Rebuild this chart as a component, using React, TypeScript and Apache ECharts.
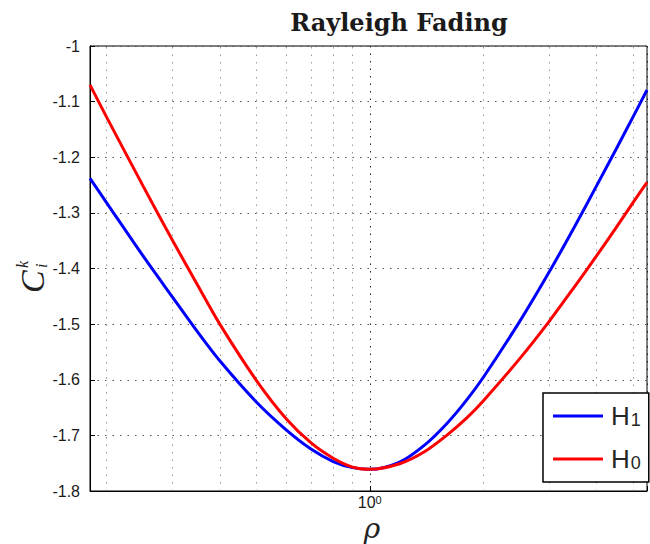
import React, { useEffect, useRef } from 'react';
import * as echarts from 'echarts';

// rho values (log x axis)
const rho = [0.181, 0.2, 0.25, 0.3, 0.35, 0.4, 0.5, 0.6, 0.7, 0.8, 0.9, 1, 1.2, 1.4, 1.6, 1.8, 2, 2.5, 3, 3.5, 4, 4.5, 5, 5.44];
// H1 (blue)
const h1 = [-1.238, -1.281, -1.377, -1.452, -1.515, -1.566, -1.640, -1.690, -1.725, -1.747, -1.758, -1.761, -1.748, -1.717, -1.679, -1.638, -1.596, -1.495, -1.405, -1.324, -1.251, -1.186, -1.127, -1.079];
// H0 (red)
const h0 = [-1.070, -1.127, -1.251, -1.350, -1.431, -1.500, -1.601, -1.670, -1.714, -1.741, -1.757, -1.761, -1.751, -1.729, -1.700, -1.670, -1.638, -1.562, -1.494, -1.432, -1.377, -1.327, -1.281, -1.245];
// minor log grid positions
const minorX = [0.2, 0.3, 0.4, 0.5, 0.6, 0.7, 0.8, 0.9, 2, 3, 4, 5];
const seriesNames = ['H1', 'H0'];
const titleText = 'Rayleigh Fading';

export default function App() {
  const ref = useRef<HTMLDivElement>(null);
  useEffect(() => {
    if (!ref.current) return;
    const chart = echarts.init(ref.current, undefined, { renderer: 'svg' });
    const sans = '"Liberation Sans", Arial, sans-serif';
    const option: any = {
      animation: false,
      backgroundColor: '#ffffff',
      grid: {
        left: 90, top: 46, right: -2, bottom: 53,
        show: true, borderColor: '#000', borderWidth: 1,
      },
      xAxis: {
        type: 'log', logBase: 10, min: 0.181, max: 5.44,
        axisLine: { show: true, lineStyle: { color: '#000', width: 1 } },
        axisTick: { show: true, inside: true, length: 5, lineStyle: { color: '#000' } },
        axisLabel: {
          margin: 3,
          formatter: (v: number) => (Math.abs(v - 1) < 1e-9 ? '{b|10}{s|0}' : ''),
          rich: {
            b: { fontSize: 16, lineHeight: 17, fontFamily: sans, color: '#1a1a1a' },
            s: { fontSize: 11, lineHeight: 6, verticalAlign: 'top', fontFamily: sans, color: '#1a1a1a' },
          },
        },
        splitLine: { show: true, lineStyle: { color: '#222', type: [1.5, 6], width: 1 } },
      },
      yAxis: {
        type: 'value', min: -1.8, max: -1, interval: 0.1,
        axisLine: { show: true, lineStyle: { color: '#000', width: 1 } },
        axisTick: { show: true, inside: true, length: 5, lineStyle: { color: '#000' } },
        axisLabel: {
          margin: 10, fontSize: 16, fontFamily: sans, color: '#1a1a1a',
          formatter: (v: number) => String(Number(v.toFixed(1))),
        },
        splitLine: { show: true, lineStyle: { color: '#555', type: [1.5, 6], width: 1 } },
      },
      legend: {
        data: seriesNames,
        orient: 'vertical',
        left: 543, top: 393,
        padding: [10, 8, 10, 10],
        icon: 'rect',
        itemWidth: 50, itemHeight: 3, itemGap: 17,
        backgroundColor: '#fff',
        borderColor: '#000', borderWidth: 1.5, borderRadius: 0,
        formatter: (name: string) => `{h|H}{s|${name.slice(1)}}`,
        textStyle: {
          rich: {
            h: { fontSize: 26, lineHeight: 26, fontFamily: sans, color: '#262626', padding: [0, 0, 0, 3] },
            s: { fontSize: 18, lineHeight: 14, padding: [4, 0, 0, 1], verticalAlign: 'bottom', fontFamily: sans, color: '#262626' },
          },
        },
      },
      series: [
        {
          name: seriesNames[0], type: 'line', smooth: 0.3, symbol: 'none', z: 3,
          lineStyle: { color: '#0000ff', width: 3 }, itemStyle: { color: '#0000ff' },
          data: rho.map((r, i) => [r, h1[i]]),
          markLine: {
            silent: true, z: 1, symbol: ['none', 'none'], label: { show: false },
            lineStyle: { color: '#999', type: [1.5, 6], width: 1 },
            data: minorX.map((v) => ({ xAxis: v })),
          },
        },
        {
          name: seriesNames[1], type: 'line', smooth: 0.3, symbol: 'none', z: 4,
          lineStyle: { color: '#ff0000', width: 3 }, itemStyle: { color: '#ff0000' },
          data: rho.map((r, i) => [r, h0[i]]),
        },
      ],
      graphic: [
        {
          type: 'text', x: 399, y: 22,
          style: { text: titleText, font: 'bold 24px "DejaVu Serif", serif', fill: '#1a1a1a', align: 'center', verticalAlign: 'middle' },
        },
        {
          type: 'text', x: 372, y: 528,
          style: { text: 'ρ', font: 'italic 28px "DejaVu Serif", serif', fill: '#222', align: 'center', verticalAlign: 'middle' },
        },
        {
          type: 'group', x: 32, y: 293, rotation: Math.PI / 2,
          children: [
            { type: 'text', x: 0, y: 0, style: { text: 'C', font: 'italic 34px "Liberation Serif", serif', fill: '#222', align: 'left', verticalAlign: 'middle' } },
            { type: 'text', x: 25, y: -10, style: { text: 'k', font: 'italic 16px "Liberation Serif", serif', fill: '#222', align: 'left', verticalAlign: 'middle' } },
            { type: 'text', x: 25, y: 9, style: { text: 'i', font: 'italic 16px "Liberation Serif", serif', fill: '#222', align: 'left', verticalAlign: 'middle' } },
          ],
        },
      ],
    };
    chart.setOption(option);
    return () => chart.dispose();
  }, []);
  return <div ref={ref} style={{ position: 'fixed', left: 0, top: 0, width: 650, height: 544 }} />;
}
